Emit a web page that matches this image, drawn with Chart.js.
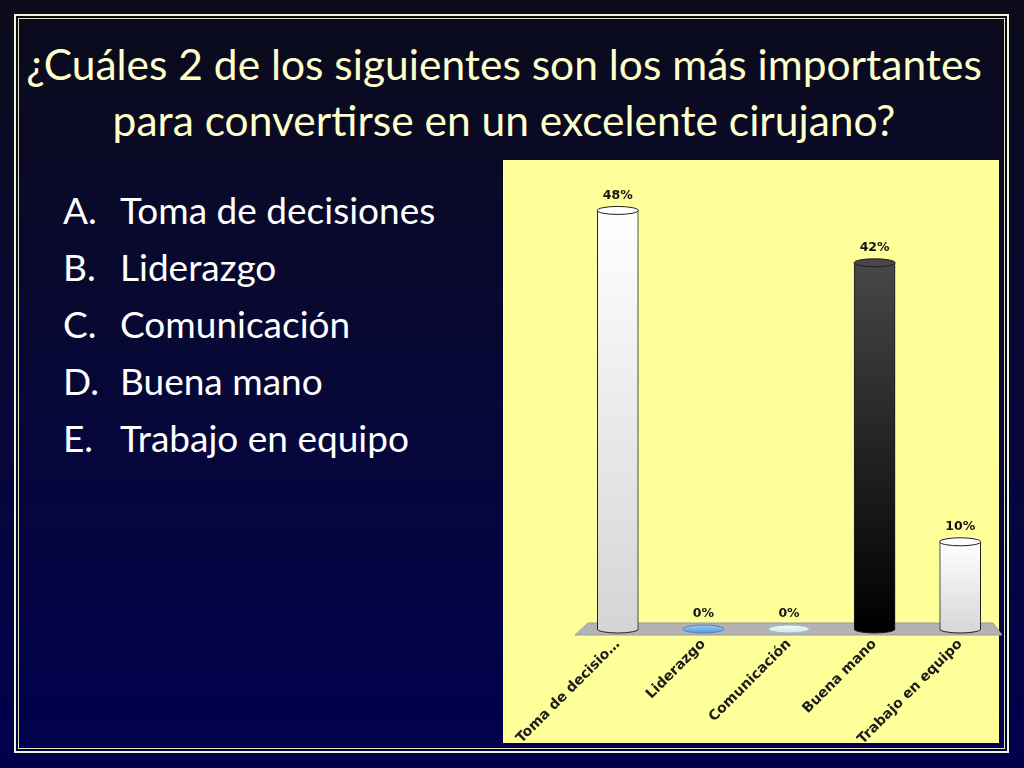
<!DOCTYPE html>
<html>
<head>
<meta charset="utf-8">
<script src="https://cdn.jsdelivr.net/npm/chart.js@4.4.1/dist/chart.umd.min.js"></script>
<style>
  html, body { margin: 0; padding: 0; }
  body {
    width: 1024px; height: 768px; position: relative; overflow: hidden;
    background: linear-gradient(#0b0b1b 0%, #07073a 55%, #00004e 100%);
    font-family: Lato, "Open Sans", sans-serif;
  }
  .frame { position: absolute; box-sizing: border-box; }
  .outer { left: 14px; top: 14px; width: 995px; height: 739px; border: 2px solid #f4f4dc; }
  .inner { left: 18px; top: 18px; width: 987px; height: 731px; border: 1.5px solid #e6e6b4; }
  h1 {
    position: absolute; left: 20px; width: 968px; top: 36px; margin: 0;
    text-align: center; color: #ffffcc; font-weight: normal;
    font-size: 42.5px; line-height: 56px;
  }
  .list { position: absolute; left: 63px; top: 181px; color: #ffffff; font-size: 37px; line-height: 57px; }
  .list span { display: inline-block; width: 57px; }
  .panel { position: absolute; left: 503px; top: 160px; width: 496px; height: 583px; background: #ffff99; }
  #box { position: absolute; left: 503px; top: 160px; }
</style>
</head>
<body>
<div class="frame outer"></div>
<div class="frame inner"></div>
<h1>¿Cuáles 2 de los siguientes son los más importantes<br>para convertirse en un excelente cirujano?</h1>
<div class="list">
  <div><span>A.</span>Toma de decisiones</div>
  <div><span>B.</span>Liderazgo</div>
  <div><span>C.</span>Comunicación</div>
  <div><span>D.</span>Buena mano</div>
  <div><span>E.</span>Trabajo en equipo</div>
</div>
<div class="panel"></div>
<div id="box"><canvas id="chart" width="510" height="583"></canvas></div>

<script>
// chart values
var categories = ['Toma de decisiones', 'Liderazgo', 'Comunicación', 'Buena mano', 'Trabajo en equipo'];
var tickLabels = ['Toma de decisio…', 'Liderazgo', 'Comunicación', 'Buena mano', 'Trabajo en equipo'];
var percentages = [48, 0, 0, 42, 10];
var valueLabels = ['48%', '0%', '0%', '42%', '10%'];

// cylinder shading, top and bottom of each bar
var topColors = ['#ffffff', '#9ccaf2', '#f2fbfb', '#474747', '#ffffff'];
var bottomColors = ['#d5d5d5', '#5b9bd5', '#cde8e8', '#000000', '#d8d8d8'];
var rimColors = ['#1e1e1e', '#4a84c0', '#9ab8c0', '#1e1e1e', '#1e1e1e'];

var shade = function(ctx) {
	var chart = ctx.chart;
	var i = ctx.dataIndex;
	var y = chart.scales.y;
	if (!chart.chartArea || !y) return bottomColors[i];
	var top = y.getPixelForValue(percentages[i]);
	var base = y.getPixelForValue(0);
	if (base - top < 1) return bottomColors[i];
	var g = chart.ctx.createLinearGradient(0, top, 0, base);
	g.addColorStop(0, topColors[i]);
	g.addColorStop(1, bottomColors[i]);
	return g;
};

// grey floor under the bars and the round caps + value labels
var cylinders = {
	id: 'cylinders',
	beforeDatasetsDraw: function(chart) {
		var c = chart.ctx, a = chart.chartArea;
		var base = chart.scales.y.getPixelForValue(0);
		c.save();
		c.beginPath();
		c.moveTo(a.left + 13, base - 6);
		c.lineTo(a.right - 10, base - 6);
		c.lineTo(a.right - 1, base + 6);
		c.lineTo(a.left, base + 6);
		c.closePath();
		c.fillStyle = '#b3b3b3';
		c.fill();
		c.strokeStyle = '#9a9a9a';
		c.lineWidth = 1;
		c.stroke();
		c.restore();
	},
	afterDatasetsDraw: function(chart) {
		var c = chart.ctx;
		var meta = chart.getDatasetMeta(0);
		meta.data.forEach(function(bar, i) {
			var rx = bar.width / 2, ry = 4;
			c.save();
			c.lineWidth = 1;
			c.strokeStyle = rimColors[i];
			if (bar.base - bar.y > 1) {
				c.beginPath();
				c.ellipse(bar.x, bar.base, rx, ry, 0, 0, Math.PI);
				c.fillStyle = bottomColors[i];
				c.fill();
				c.stroke();
			}
			c.beginPath();
			c.ellipse(bar.x, bar.y, rx, ry, 0, 0, 2 * Math.PI);
			if (bar.base - bar.y > 1) {
				c.fillStyle = topColors[i];
			} else {
				var g = c.createLinearGradient(0, bar.y - ry, 0, bar.y + ry);
				g.addColorStop(0, topColors[i]);
				g.addColorStop(1, bottomColors[i]);
				c.fillStyle = g;
			}
			c.fill();
			c.stroke();
			c.fillStyle = '#141414';
			c.font = 'bold 12.5px "DejaVu Sans"';
			c.textAlign = 'center';
			c.textBaseline = 'middle';
			c.fillText(valueLabels[i], bar.x, bar.y - 15);
			c.restore();
		});
	}
};

var ctx = document.getElementById('chart').getContext('2d');
var chart = new Chart(ctx, {
	type: 'bar',
	data: {
		labels: categories,
		datasets: [{
			data: percentages,
			backgroundColor: shade,
			borderColor: rimColors,
			borderWidth: { left: 1, right: 1, top: 0, bottom: 0 },
			borderSkipped: false,
			barThickness: 41
		}]
	},
	options: {
		responsive: false,
		animation: false,
		layout: { padding: { left: 72, right: 10, top: 33, bottom: 0 } },
		plugins: { legend: { display: false }, tooltip: { enabled: false } },
		scales: {
			x: {
				grid: { display: false, drawTicks: false },
				border: { display: false },
				ticks: {
					autoSkip: false,
					minRotation: 45,
					maxRotation: 45,
					padding: 7,
					color: '#1c1c1c',
					font: { family: 'DejaVu Sans', weight: 'bold', size: 14 },
					callback: function(v, i) { return tickLabels[i]; }
				},
				afterFit: function(scale) { scale.height = 114; }
			},
			y: { display: false, min: 0, max: 50 }
		}
	},
	plugins: [cylinders]
});
</script>
</body>
</html>
